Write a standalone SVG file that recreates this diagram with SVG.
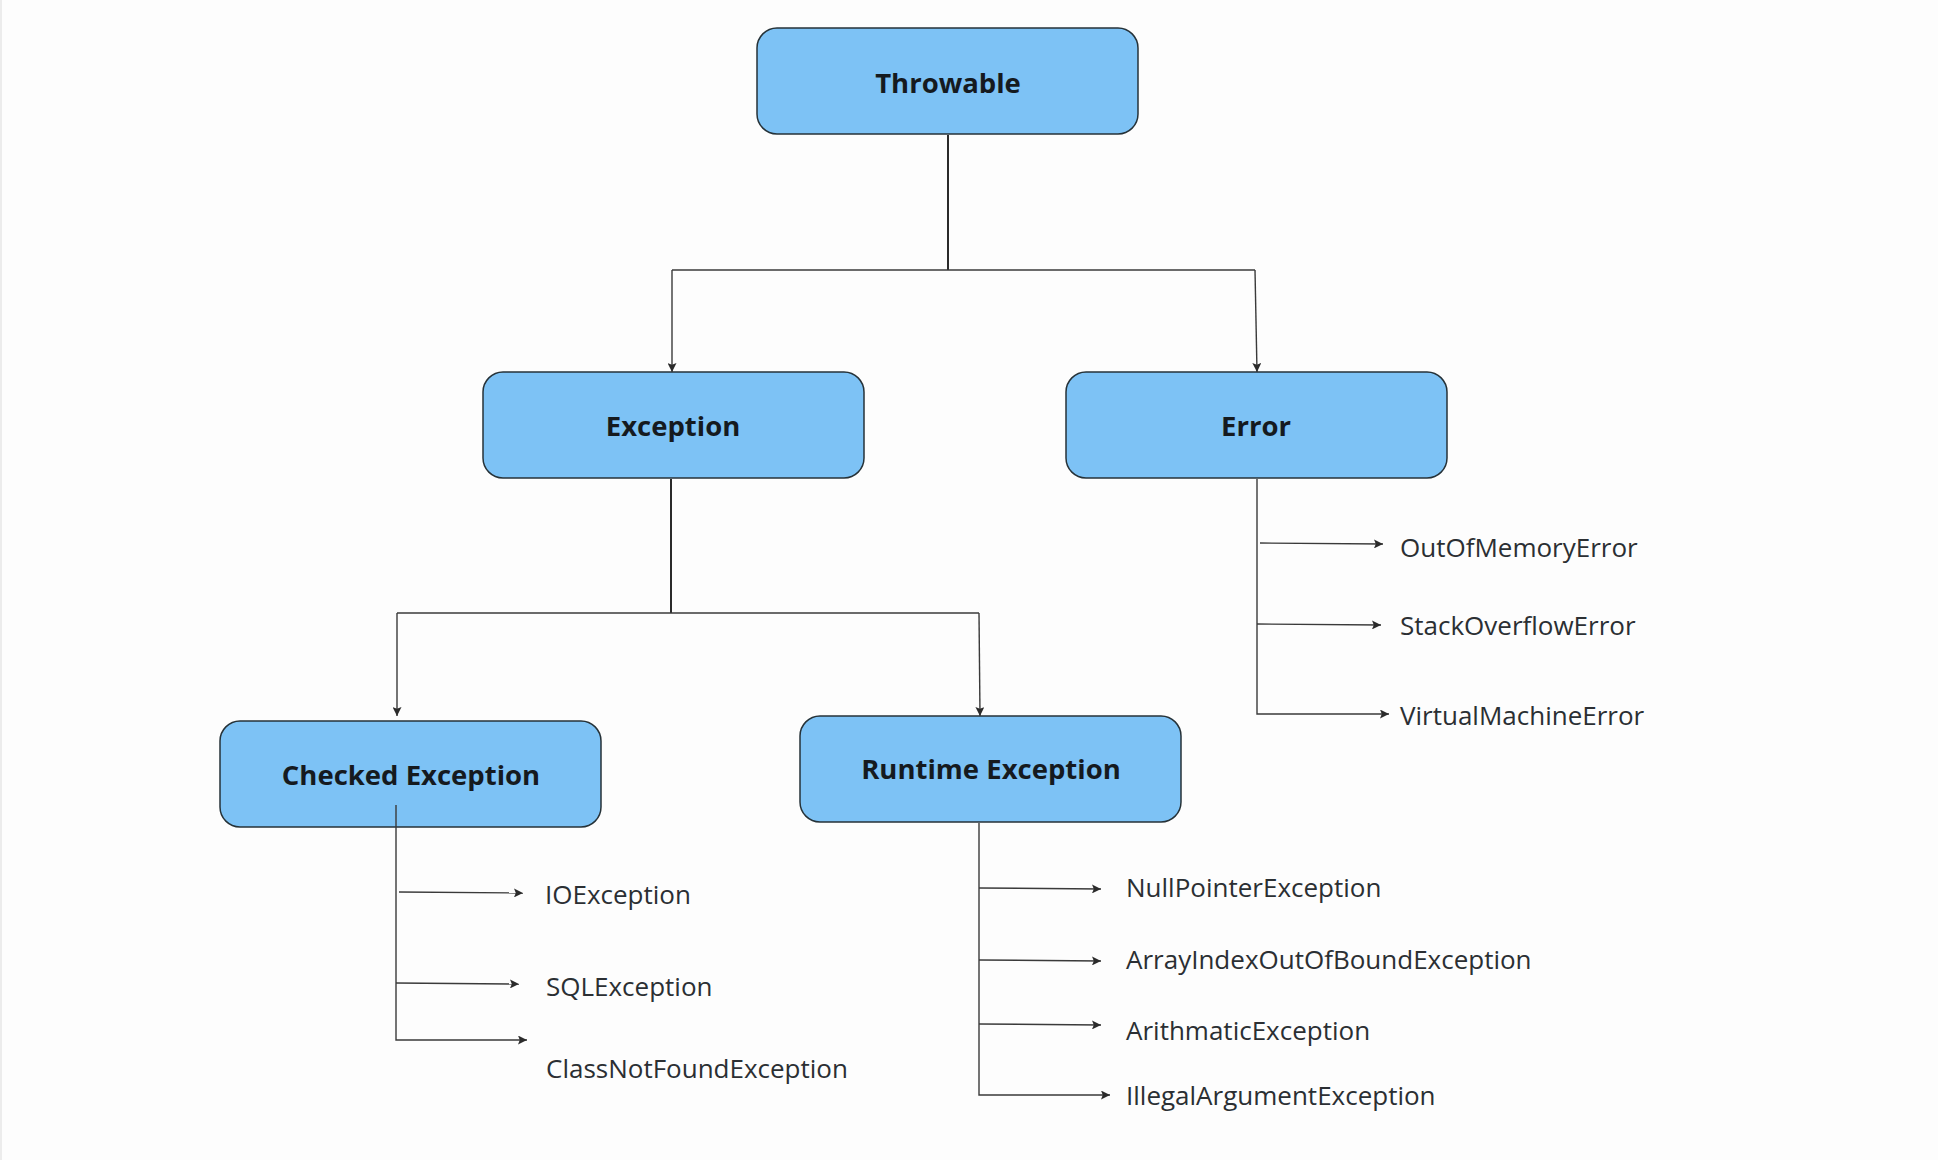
<svg xmlns="http://www.w3.org/2000/svg" width="1938" height="1160" viewBox="0 0 1938 1160">
<style>
.box{fill:#7dc2f5;stroke:#263238;stroke-width:1.5}
.title{font-family:"Open Sans","Noto Sans",sans-serif;font-weight:700;font-size:27.5px;fill:#151a1f;text-anchor:middle;dominant-baseline:central}
.lbl{font-family:"Open Sans","Noto Sans",sans-serif;font-size:26px;fill:#2b2f33;dominant-baseline:central}
.trunk{fill:none;stroke:#2b2b2b;stroke-width:2}
.ln{fill:none;stroke:#3a3a3a;stroke-width:1.4}
</style>
<defs>
<marker id="ah" viewBox="0 0 10 10" refX="10" refY="5" markerWidth="9" markerHeight="9" markerUnits="userSpaceOnUse" orient="auto">
<path d="M0,0 L10,5 L0,10 L2,5 z" fill="#2b2b2b"/>
</marker>
</defs>
<rect x="0" y="0" width="1938" height="1160" fill="#fdfdfd"/>
<rect x="0" y="0" width="2" height="1160" fill="#ececec"/>
<g id="throwable"><rect class="box" x="757" y="28" width="381" height="106" rx="20"/><text class="title" x="948" y="82">Throwable</text></g>
<g id="exception"><rect class="box" x="483" y="372" width="381" height="106" rx="20"/><text class="title" x="673" y="425">Exception</text></g>
<g id="error"><rect class="box" x="1066" y="372" width="381" height="106" rx="20"/><text class="title" x="1256" y="425">Error</text></g>
<g id="checked"><rect class="box" x="220" y="721" width="381" height="106" rx="20"/><text class="title" x="411" y="774">Checked Exception</text></g>
<g id="runtime"><rect class="box" x="800" y="716" width="381" height="106" rx="20"/><text class="title" x="991" y="768">Runtime Exception</text></g>
<g id="outofmemory"><text class="lbl" x="1400" y="547">OutOfMemoryError</text></g>
<g id="stackoverflow"><text class="lbl" x="1400" y="625">StackOverflowError</text></g>
<g id="virtualmachine"><text class="lbl" x="1400" y="715">VirtualMachineError</text></g>
<g id="ioexception"><text class="lbl" x="545" y="894">IOException</text></g>
<g id="sqlexception"><text class="lbl" x="546" y="986">SQLException</text></g>
<g id="classnotfound"><text class="lbl" x="546" y="1068">ClassNotFoundException</text></g>
<g id="nullpointer"><text class="lbl" x="1126" y="887">NullPointerException</text></g>
<g id="arrayindex"><text class="lbl" x="1126" y="959">ArrayIndexOutOfBoundException</text></g>
<g id="arithmatic"><text class="lbl" x="1126" y="1030">ArithmaticException</text></g>
<g id="illegalargument"><text class="lbl" x="1126" y="1095">IllegalArgumentException</text></g>
<g id="connectors">
<path class="trunk" d="M948,135 V270"/>
<path class="ln" d="M672,270 H1255"/>
<path class="ln" d="M672,270 V372" marker-end="url(#ah)"/>
<path class="ln" d="M1255,270 L1257,372" marker-end="url(#ah)"/>
<path class="trunk" d="M671,479 V613"/>
<path class="ln" d="M397,613 H979"/>
<path class="ln" d="M397,613 V716" marker-end="url(#ah)"/>
<path class="ln" d="M979,613 L980,716" marker-end="url(#ah)"/>
<path class="ln" d="M1257,479 V714 H1389" marker-end="url(#ah)"/>
<path class="ln" d="M1260,543 L1383,544" marker-end="url(#ah)"/>
<path class="ln" d="M1257,624 L1381,625" marker-end="url(#ah)"/>
<path class="ln" d="M396,805 V1040 H527" marker-end="url(#ah)"/>
<path class="ln" d="M399,892 L523,893" marker-end="url(#ah)"/>
<path class="ln" d="M396,983 L519,984" marker-end="url(#ah)"/>
<path class="ln" d="M979,823 V1095 H1110" marker-end="url(#ah)"/>
<path class="ln" d="M979,888 L1101,889" marker-end="url(#ah)"/>
<path class="ln" d="M979,960 L1101,961" marker-end="url(#ah)"/>
<path class="ln" d="M979,1024 L1101,1025" marker-end="url(#ah)"/>
</g>
</svg>
